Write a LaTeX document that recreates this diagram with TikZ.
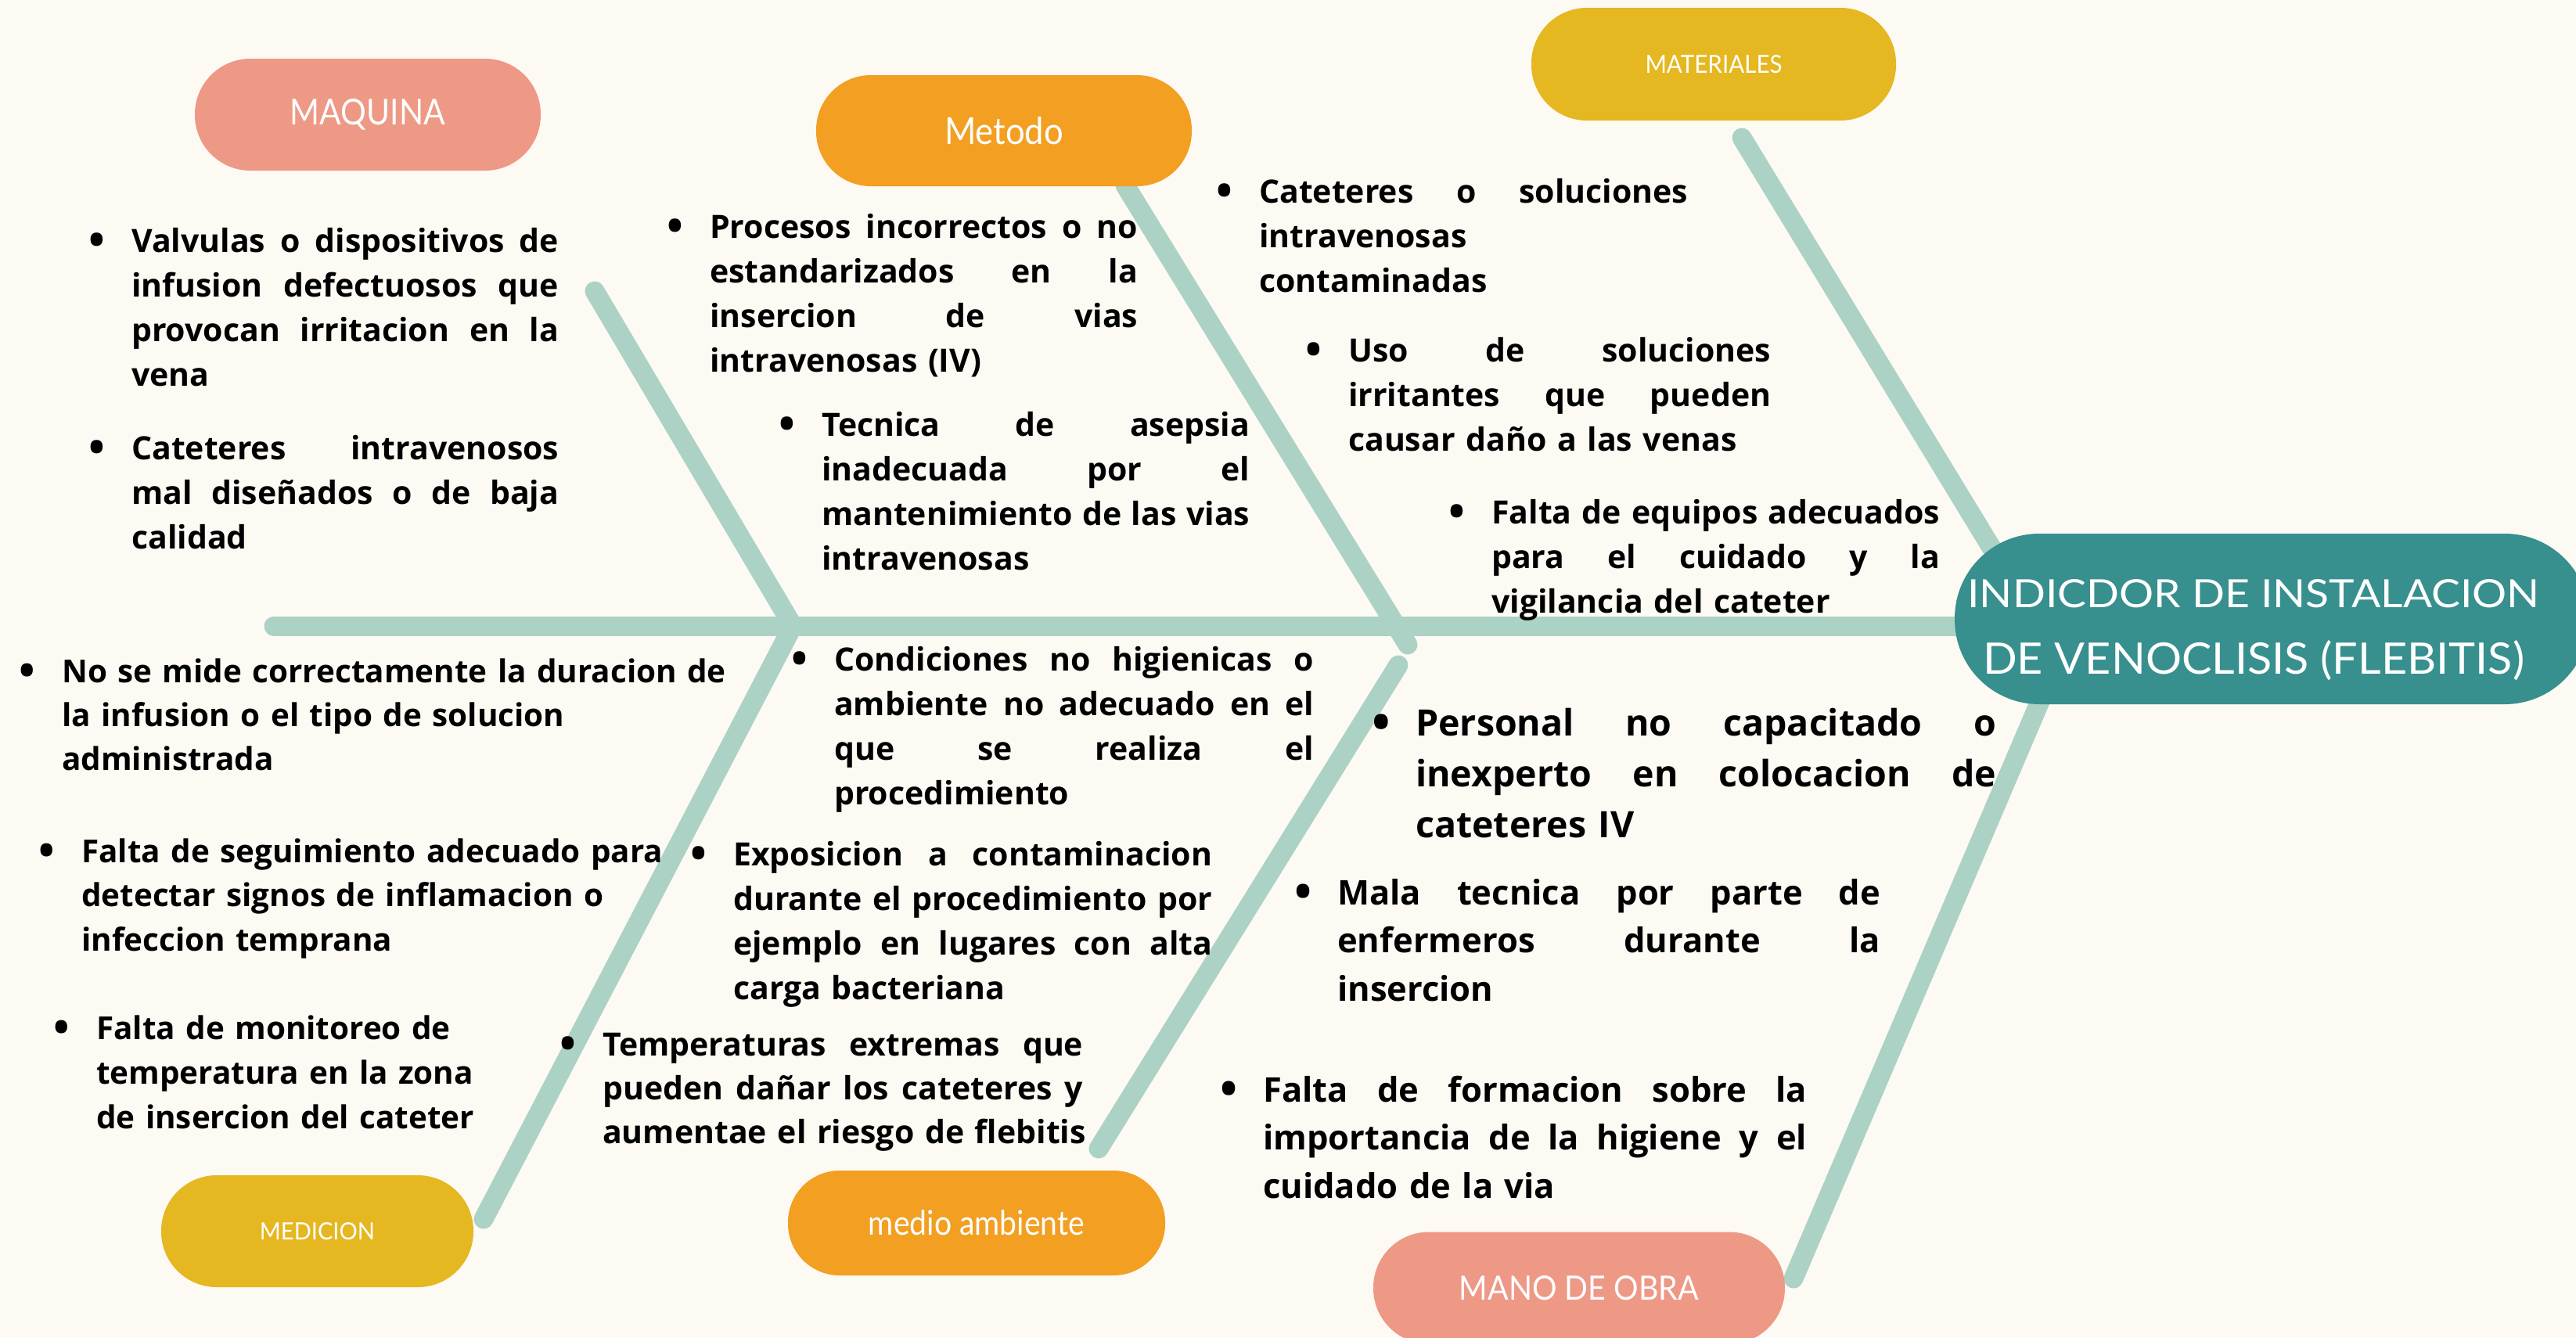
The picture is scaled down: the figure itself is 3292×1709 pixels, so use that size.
\documentclass[tikz,border=0pt]{standalone}
\usepackage{fontspec}
\newfontfamily\osb{Open Sans}
\newfontfamily\lab{Lato}
\definecolor{bgc}{HTML}{FDFAF4}
\definecolor{bone}{HTML}{ACD2C5}
\definecolor{headc}{HTML}{378F8E}
\definecolor{salmon}{HTML}{EE9886}
\definecolor{orangec}{HTML}{F29F22}
\definecolor{goldc}{HTML}{E5B720}
\newcommand\jl[1]{\leavevmode\hbox to \hsize{\spaceskip=\fontdimen2\font plus 1fil\relax #1}}
\newcommand\jw[2]{\leavevmode\hbox to #1pt{\spaceskip=\fontdimen2\font plus 1fil\relax #2}}
\newcommand\bul{\leavevmode\llap{\makebox[0pt]{\raisebox{-0.11em}{\scalebox{1.35}{\textbullet}}}\hspace{44pt}}}
\newcommand\lbl[3]{\resizebox{#1pt}{#2pt}{\lab #3}}
\begin{document}
\begin{tikzpicture}[x=1pt,y=-1pt,
  bonel/.style={line width=25pt, color=bone, line cap=round},
  pill/.style={inner sep=0pt, text=white},
  txt/.style={anchor=base west, inner sep=0pt, align=left, font=\osb\bfseries\fontsize{41}{57}\selectfont},
  bigtxt/.style={txt, font=\osb\bfseries\fontsize{43.5}{61.5}\selectfont}
]
\useasboundingbox (0,0) rectangle (3292,1709);
\fill[bgc] (0,0) rectangle (3292,1709);

% bone end points
\coordinate (s0) at (350,800);
\coordinate (s1) at (2560,800);
\coordinate (b1a) at (760,372);   \coordinate (b1b) at (1012,798);
\coordinate (b2a) at (1438,237);  \coordinate (b2b) at (1799,824);
\coordinate (b3a) at (2226,176);  \coordinate (b3b) at (2545,700);
\coordinate (b4a) at (1010,806);  \coordinate (b4b) at (618,1558);
\coordinate (b5a) at (1787,850);  \coordinate (b5b) at (1404,1468);
\coordinate (b6a) at (2614,880);  \coordinate (b6b) at (2292,1634);

\draw[bonel] (s0) -- (s1);
\draw[bonel] (b1a) -- (b1b);
\draw[bonel] (b2a) -- (b2b);
\draw[bonel] (b3a) -- (b3b);
\draw[bonel] (b4a) -- (b4b);
\draw[bonel] (b5a) -- (b5b);
\draw[bonel] (b6a) -- (b6b);

% category pills
\node[pill, fill=salmon, minimum width=442pt, minimum height=143pt, rounded corners=71pt] (maq) at (470,146.5) {\lbl{198}{33}{MAQUINA}};
\node[pill, fill=orangec, minimum width=480pt, minimum height=142pt, rounded corners=70pt] (met) at (1283,167) {\lbl{152}{35}{Metodo}};
\node[pill, fill=goldc, minimum width=466pt, minimum height=144pt, rounded corners=71pt] (mat) at (2190,82) {\lbl{175}{23}{MATERIALES}};
\node[pill, fill=goldc, minimum width=399pt, minimum height=143pt, rounded corners=71pt] (med) at (405.5,1573.5) {\lbl{147}{22}{MEDICION}};
\node[pill, fill=orangec, minimum width=482pt, minimum height=134pt, rounded corners=66pt] (amb) at (1248,1563) {\lbl{276}{32}{medio ambiente}};
\node[pill, fill=salmon, minimum width=526pt, minimum height=143pt, rounded corners=71pt] (mob) at (2018,1646) {\lbl{306}{31}{MANO DE OBRA}};

% head
\node[fill=headc, inner sep=0pt, minimum width=811pt, minimum height=218pt, rounded corners=108pt] (head) at (2903.5,791) {};
\node[anchor=base, inner sep=0pt, text=white] (ht1) at (2880,776) {\lbl{731}{36}{INDICDOR DE INSTALACION}};
\node[anchor=base, inner sep=0pt, text=white] (ht2) at (2880,861) {\lbl{692}{43}{DE VENOCLISIS (FLEBITIS)}};

% MAQUINA
\node[txt, text width=546pt] (m1) at (168,322) {\bul\jl{Valvulas o dispositivos de}\\\jl{infusion defectuosos que}\\\jl{provocan irritacion en la}\\vena};
\node[txt, text width=546pt] (m2) at (168,587) {\bul\jl{Cateteres intravenosos}\\\jl{mal diseñados o de baja}\\calidad};

% Metodo
\node[txt, text width=547pt] (t1) at (907,304) {\bul\jl{Procesos incorrectos o no}\\\jl{estandarizados en la}\\\jl{insercion de vias}\\intravenosas (IV)};
\node[txt, text width=547pt] (t2) at (1050,557) {\bul\jl{Tecnica de asepsia}\\\jl{inadecuada por el}\\\jl{mantenimiento de las vias}\\intravenosas};

% Materiales
\node[txt, text width=548pt] (a1) at (1609,259) {\bul\jl{Cateteres o soluciones}\\intravenosas\\contaminadas};
\node[txt, text width=540pt] (a2) at (1723,462) {\bul\jl{Uso de soluciones}\\\jl{irritantes que pueden}\\causar daño a las venas};
\node[txt, text width=573pt] (a3) at (1906,669) {\bul\jl{Falta de equipos adecuados}\\\jl{para el cuidado y la}\\vigilancia del cateter};

% Medicion
\node[txt, text width=900pt, font=\osb\bfseries\fontsize{40.4}{56}\selectfont] (d1) at (79,872) {\bul No se mide correctamente la duracion de\\la infusion o el tipo de solucion\\administrada};
\node[txt, text width=800pt, font=\osb\bfseries\fontsize{40.4}{56.5}\selectfont] (d2) at (104,1102) {\bul Falta de seguimiento adecuado para\\detectar signos de inflamacion o\\infeccion temprana};
\node[txt, text width=600pt, font=\osb\bfseries\fontsize{40.4}{57}\selectfont] (d3) at (123,1328) {\bul Falta de monitoreo de\\temperatura en la zona\\de insercion del cateter};

% Medio ambiente
\node[txt, text width=613pt] (e1) at (1066,857) {\bul\jl{Condiciones no higienicas o}\\\jl{ambiente no adecuado en el}\\\jl{que se realiza el}\\procedimiento};
\node[txt, text width=612pt] (e2) at (937,1106) {\bul\jl{Exposicion a contaminacion}\\\jl{durante el procedimiento por}\\\jl{ejemplo en lugares con alta}\\carga bacteriana};
\node[txt, text width=660pt, font=\osb\bfseries\fontsize{41}{56}\selectfont] (e3) at (770,1349) {\bul\jw{614}{Temperaturas extremas que}\\\jw{614}{pueden dañar los cateteres y}\\aumentae el riesgo de flebitis};

% Mano de obra
\node[txt, text width=742pt, font=\osb\bfseries\fontsize{46.5}{65}\selectfont] (o1) at (1809,940) {\bul\jl{Personal no capacitado o}\\\jl{inexperto en colocacion de}\\cateteres IV};
\node[bigtxt, text width=694pt] (o2) at (1709,1156) {\bul\jl{Mala tecnica por parte de}\\\jl{enfermeros durante la}\\insercion};
\node[bigtxt, text width=695pt] (o3) at (1614,1408) {\bul\jl{Falta de formacion sobre la}\\\jl{importancia de la higiene y el}\\cuidado de la via};
\end{tikzpicture}
\end{document}
